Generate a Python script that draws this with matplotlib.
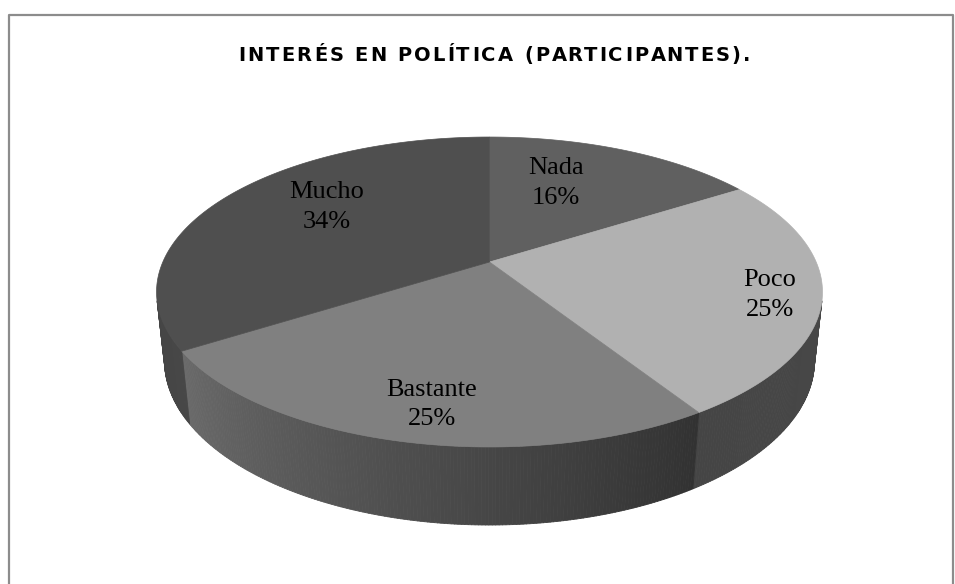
# Interés en política (participantes) - 3D pie, Excel style
import numpy as np
import matplotlib.pyplot as plt
from matplotlib.collections import PolyCollection
from matplotlib.patches import Polygon

labels = ["Nada", "Poco", "Bastante", "Mucho"]
values = [16, 25, 25, 34]
title = "INTERÉS EN POLÍTICA (PARTICIPANTES)."

top_colors = ["#606060", "#b1b1b1", "#808080", "#4f4f4f"]
# side colour at start / end of each slice (clockwise)
side_colors = [("#484848", "#484848"), ("#4a4a4a", "#454545"),
               ("#323232", "#6a6a6a"), ("#474747", "#3c3c3c")]

# label placement in disc coords (radius, angle shift in degrees)
label_r = [0.63, 0.85, 0.82, 0.67]
label_shift = [-7.8, 1.9, -2.1, 7.8]

# camera / projection (pixels)
cx, cy = 489.5, 262.0
phi = np.radians(27.17)
s, c = np.sin(phi), np.cos(phi)
D = 4.597
f = 1501.7
thick = 0.238


def proj(theta, r=1.0, w=0.0):
    u = r * np.sin(theta)
    v = r * np.cos(theta)
    X = u
    Y = v * s + w * c
    Z = D + v * c - w * s
    return cx + f * X / Z, cy - f * Y / Z


def mix(c1, c2, t):
    a = np.array([int(c1[i:i + 2], 16) for i in (1, 3, 5)]) / 255
    b = np.array([int(c2[i:i + 2], 16) for i in (1, 3, 5)]) / 255
    return tuple(a + (b - a) * t)


fig = plt.figure(figsize=(9.55, 5.84), dpi=100)
ax = fig.add_axes([0, 0, 1, 1])
ax.set_xlim(0, 955)
ax.set_ylim(584, 0)
ax.axis("off")

# chart border
ax.plot([8.5, 8.5, 953, 953], [590, 14.5, 14.5, 590], color="#8c8c8c", lw=1.6)

total = sum(values)
bounds = np.cumsum([0] + values) / total * 2 * np.pi

# side wall
polys, cols = [], []
for i in range(len(values)):
    a0, a1 = bounds[i], bounds[i + 1]
    n = max(int((a1 - a0) / np.radians(0.5)), 2)
    th = np.linspace(a0, a1, n + 1)
    for k in range(n):
        tm = 0.5 * (th[k] + th[k + 1])
        if np.cos(tm) >= -1 / (D * c):
            continue
        p1 = proj(th[k]); p2 = proj(th[k + 1])
        p3 = proj(th[k + 1], w=-thick); p4 = proj(th[k], w=-thick)
        polys.append([p1, p2, p3, p4])
        cols.append(mix(side_colors[i][0], side_colors[i][1], (tm - a0) / (a1 - a0)))
ax.add_collection(PolyCollection(polys, facecolors=cols, edgecolors=cols, linewidths=0.6))

# top faces
for i in range(len(values)):
    th = np.linspace(bounds[i], bounds[i + 1], 200)
    pts = [proj(0, r=0.0)] + [proj(t) for t in th]
    ax.add_patch(Polygon(pts, closed=True, facecolor=top_colors[i],
                         edgecolor=top_colors[i], lw=0.5))

# labels
for i, lab in enumerate(labels):
    mid = 0.5 * (bounds[i] + bounds[i + 1]) + np.radians(label_shift[i])
    x, y = proj(mid, r=label_r[i])
    ax.text(x, y, f"{lab}\n{values[i]}%", ha="center", va="center",
            fontsize=19, family="Liberation Serif", linespacing=1.45, color="black")

# title with letter spacing (drawn char by char)
tkw = dict(fontsize=14, fontweight="bold", family="DejaVu Sans", color="black", va="baseline")
renderer = fig.canvas.get_renderer()


def text_w(txt):
    t = ax.text(0, 0, txt, **tkw)
    w = t.get_window_extent(renderer).width
    t.remove()
    return w


track = 2.2
ref_w = text_w("I")
full_w = text_w(title + "I") - ref_w + track * (len(title) - 1)
x0 = 494 - full_w / 2
for i, ch in enumerate(title):
    off = (text_w(title[:i] + "I") - ref_w) if i else 0.0
    ax.text(x0 + off + track * i, 61, ch, ha="left", **tkw)

fig.savefig("out.png", dpi=100)
